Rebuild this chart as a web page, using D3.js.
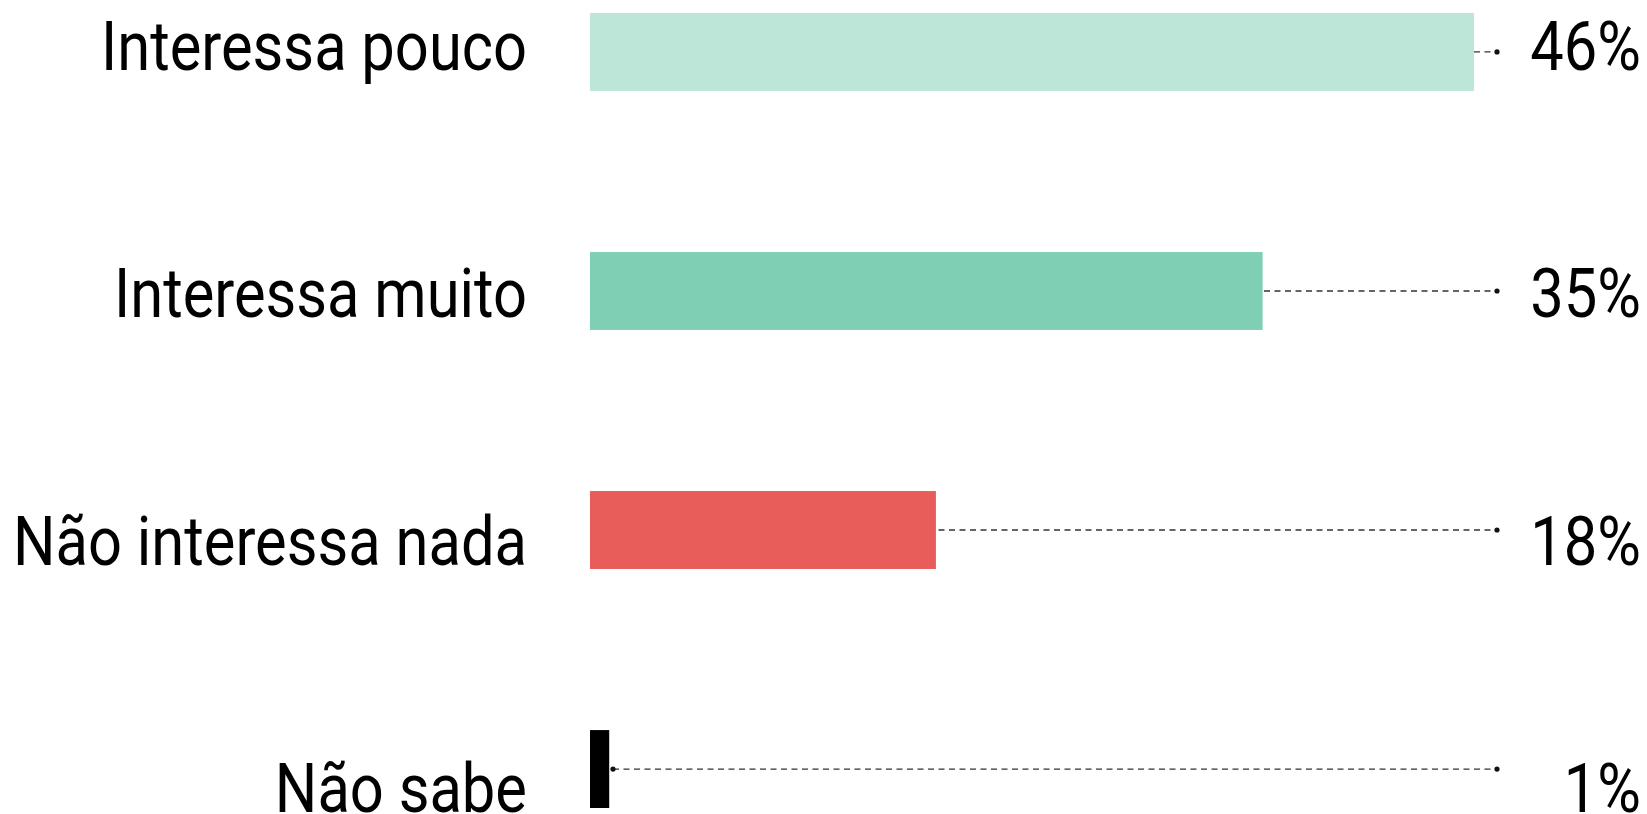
<!DOCTYPE html>
<html>
<head>
<meta charset="utf-8">
<script src="https://cdn.jsdelivr.net/npm/d3@7"></script>
<style>
  html, body { margin: 0; padding: 0; background: #fff; }
  text { font-family: Roboto, "DejaVu Sans", sans-serif; font-weight: 400; fill: #000; }
</style>
</head>
<body>
<div id="chart"></div>
<script>
// answers, share of respondents (%) and bar colours
let categories = ["Interessa pouco", "Interessa muito", "Não interessa nada", "Não sabe"];
let values = [46, 35, 18, 1];
let colors = ["#bde5d8", "#7fcfb5", "#e85d5a", "#000000"];

let w = 1647, h = 814;

let svg = d3.select("#chart").append("svg")
  .attr("width", w)
  .attr("height", h);

//scales
let x = d3.scaleLinear().domain([0, d3.max(values)]).range([590, 1474]);
let y = d3.scaleBand().domain(categories).range([13, 808]).paddingInner(0.674).paddingOuter(0);
let yText = d3.scalePoint().domain(categories).range([70, 812]).padding(0);

let rows = categories.map(function(c, i){ return {cat: c, val: values[i], col: colors[i]}; });

//dotted leader lines, drawn under the bars
let lineStart = 613, lineEnd = 1497;
svg.selectAll("line.leader")
  .data(rows)
  .enter().append("line")
  .attr("class", "leader")
  .attr("x1", lineStart)
  .attr("x2", lineEnd)
  .attr("y1", function(d){ return y(d.cat) + y.bandwidth()/2; })
  .attr("y2", function(d){ return y(d.cat) + y.bandwidth()/2; })
  .style("stroke", "#333")
  .style("stroke-width", 1.3)
  .style("stroke-dasharray", "6,4.5");

svg.selectAll("circle.start")
  .data(rows)
  .enter().append("circle")
  .attr("cx", lineStart)
  .attr("cy", function(d){ return y(d.cat) + y.bandwidth()/2; })
  .attr("r", 2.6)
  .style("fill", "#111");

svg.selectAll("circle.end")
  .data(rows)
  .enter().append("circle")
  .attr("cx", lineEnd)
  .attr("cy", function(d){ return y(d.cat) + y.bandwidth()/2; })
  .attr("r", 2.6)
  .style("fill", "#111");

//bars
svg.selectAll("rect.bar")
  .data(rows)
  .enter().append("rect")
  .attr("class", "bar")
  .attr("x", x(0))
  .attr("y", function(d){ return y(d.cat); })
  .attr("width", function(d){ return x(d.val) - x(0); })
  .attr("height", y.bandwidth())
  .style("fill", function(d){ return d.col; });

//category labels
let catText = svg.selectAll("text.cat")
  .data(rows)
  .enter().append("text")
  .attr("class", "cat")
  .attr("text-anchor", "end")
  .attr("font-size", "68px")
  .text(function(d){ return d.cat; });

//value labels
let valText = svg.selectAll("text.val")
  .data(rows)
  .enter().append("text")
  .attr("class", "val")
  .attr("text-anchor", "end")
  .attr("font-size", "68px")
  .text(function(d){ return d.val + "%"; });

//no condensed face installed, so squeeze the type horizontally
//so the longest label spans about as wide as in the original
let longest = d3.max(catText.nodes(), function(n){ return n.getComputedTextLength(); });
let k = 514 / longest;

catText.attr("transform", function(d){
  return "translate(527," + yText(d.cat) + ") scale(" + k + ",1)";
});
valText.attr("transform", function(d){
  return "translate(1641," + yText(d.cat) + ") scale(" + k + ",1)";
});
</script>
</body>
</html>
